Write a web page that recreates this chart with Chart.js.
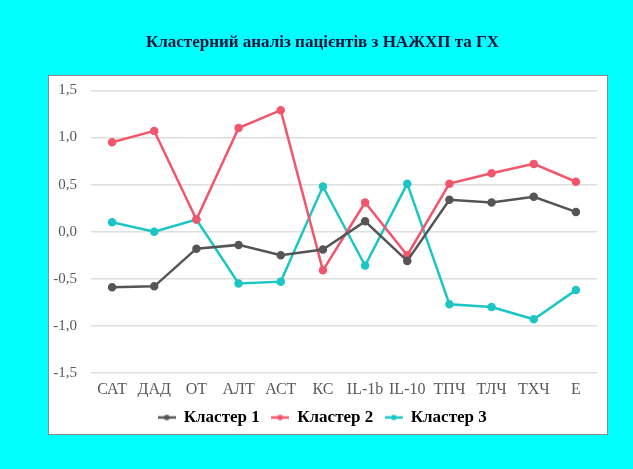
<!DOCTYPE html>
<html>
<head>
<meta charset="utf-8">
<script src="https://cdn.jsdelivr.net/npm/chart.js@4"></script>
<style>
  html, body { margin: 0; padding: 0; background: #00ffff; }
  #wrap { position: relative; width: 633px; height: 469px; }
</style>
</head>
<body>
<div id="wrap"><canvas id="chart" width="633" height="469"></canvas></div>
<script>
// Categories and cluster profiles
const categories = ['САТ', 'ДАД', 'ОТ', 'АЛТ', 'АСТ', 'КС', 'IL-1b', 'IL-10', 'ТПЧ', 'ТЛЧ', 'ТХЧ', 'Е'];
const cluster1 = [-0.59, -0.58, -0.18, -0.14, -0.25, -0.19, 0.11, -0.31, 0.34, 0.31, 0.37, 0.21];
const cluster2 = [0.95, 1.07, 0.13, 1.10, 1.29, -0.41, 0.31, -0.25, 0.51, 0.62, 0.72, 0.53];
const cluster3 = [0.10, 0.00, 0.13, -0.55, -0.53, 0.48, -0.36, 0.51, -0.77, -0.80, -0.93, -0.62];
const seriesNames = ['Кластер 1', 'Кластер 2', 'Кластер 3'];
const yTicks = [1.5, 1.0, 0.5, 0.0, -0.5, -1.0, -1.5];

const colors = ['#555555', '#f2566c', '#1cc6c4'];
const serif = '"Liberation Serif", "Times New Roman", serif';

// legend marker: short line with a dot in the middle
function legendMarker(color) {
  const c = document.createElement('canvas');
  c.width = 18;
  c.height = 8;
  const ctx = c.getContext('2d');
  ctx.strokeStyle = color;
  ctx.lineWidth = 2.5;
  ctx.beginPath();
  ctx.moveTo(0, 4);
  ctx.lineTo(18, 4);
  ctx.stroke();
  ctx.fillStyle = color;
  ctx.beginPath();
  ctx.arc(9, 4, 2.8, 0, Math.PI * 2);
  ctx.fill();
  return c;
}

// white panel with grey frame behind the plot
const panel = {
  id: 'panel',
  beforeDraw(chart) {
    const ctx = chart.ctx;
    ctx.save();
    ctx.fillStyle = '#ffffff';
    ctx.fillRect(48, 75, 559, 359);
    ctx.strokeStyle = '#8a8a8a';
    ctx.lineWidth = 1;
    ctx.strokeRect(48.5, 75.5, 559, 359);
    ctx.restore();
  },
};

const datasets = [cluster1, cluster2, cluster3].map((values, i) => ({
  label: seriesNames[i],
  data: values,
  borderColor: colors[i],
  backgroundColor: colors[i],
  borderWidth: 2.5,
  pointRadius: 3,
  pointHoverRadius: 3,
  tension: 0,
}));

new Chart(document.getElementById('chart'), {
  type: 'line',
  data: { labels: categories, datasets },
  plugins: [panel],
  options: {
    responsive: false,
    animation: false,
    layout: { padding: { left: 48, right: 36, top: 0, bottom: 33 } },
    plugins: {
      title: {
        display: true,
        text: 'Кластерний аналіз пацієнтів з НАЖХП та ГХ',
        color: '#14143a',
        font: { family: serif, size: 17, weight: 'bold' },
        padding: { top: 32, bottom: 38 },
      },
      legend: {
        position: 'bottom',
        labels: {
          color: '#000000',
          font: { family: serif, size: 17, weight: 'bold' },
          usePointStyle: true,
          boxWidth: 18,
          padding: 12,
          generateLabels: (chart) =>
            chart.data.datasets.map((ds, i) => ({
              text: ds.label,
              pointStyle: legendMarker(colors[i]),
              fillStyle: colors[i],
              strokeStyle: colors[i],
              lineWidth: 0,
              datasetIndex: i,
              fontColor: '#000000',
            })),
        },
      },
      tooltip: { enabled: false },
    },
    scales: {
      x: {
        offset: true,
        afterFit: (scale) => { scale.height = 24; },
        grid: { display: false, drawTicks: false },
        border: { display: false },
        ticks: {
          color: '#595959',
          font: { family: serif, size: 16, lineHeight: 1 },
          padding: 9,
          maxRotation: 0,
        },
      },
      y: {
        min: -1.5,
        max: 1.5,
        afterFit: (scale) => { scale.width = 43; },
        afterBuildTicks: (scale) => {
          scale.ticks = yTicks.map((v) => ({ value: v }));
        },
        grid: { color: '#dedede', lineWidth: 1.5, drawTicks: false },
        border: { display: false },
        ticks: {
          color: '#595959',
          font: { family: serif, size: 15 },
          padding: 14,
          callback: (v) => v.toFixed(1).replace('.', ','),
        },
      },
    },
  },
});
</script>
</body>
</html>
